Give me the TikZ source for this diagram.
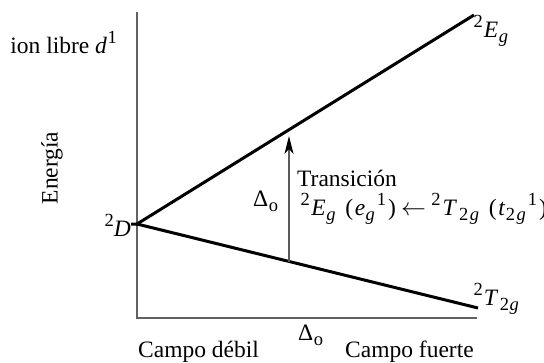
\documentclass[tikz,border=0pt]{standalone}
\usepackage{fontspec}
\setmainfont{Liberation Serif}
\usetikzlibrary{arrows.meta}
\newcommand{\myup}[1]{\kern0.5pt\raisebox{0.4em}{\fontsize{18.5}{18.5}\selectfont #1}}
\newcommand{\mydn}[1]{\kern0.5pt\raisebox{-0.22em}{\fontsize{18.5}{18.5}\selectfont #1}}
\begin{document}
\begin{tikzpicture}[x=1pt,y=-1pt,
  axis/.style={draw=black!62,line width=1.2pt},
  level/.style={draw=black,line width=3pt},
  trans/.style={draw=black!65,line width=1.2pt,-{Stealth[length=18pt,width=9pt,inset=5pt,black]}},
  lbl/.style={inner sep=0pt,font=\fontsize{23.5}{27}\selectfont}]
\useasboundingbox (0,0) rectangle (544,362);
\coordinate (top) at (137,12);
\coordinate (origin) at (137,318);
\coordinate (right) at (477,318);
\coordinate (Dpt) at (137,224);
\coordinate (Dtick) at (131,224);
\coordinate (Eend) at (474,15);
\coordinate (Tend) at (478,308);
\coordinate (abase) at (289,262);
\coordinate (atip) at (289,136);
\draw[axis] (top) -- (origin) -- (right);
\draw[level] (Dtick) -- (Dpt) -- (Eend);
\draw[level] (Dpt) -- (Tend);
\draw[trans] (abase) -- (atip);
\node[lbl,anchor=base east] (free) at (117,53) {ion libre \textit{d}\myup{1}};
\node[lbl,rotate=90] (energy) at (52,168) {Energía};
\node[lbl,anchor=base east] (Dlbl) at (131,236) {\myup{2}\textit{D}};
\node[lbl,anchor=base west] (Elbl) at (473,37) {\myup{2}\kern1pt\textit{E}\mydn{\textit{g}}};
\node[lbl,anchor=base west] (Tlbl) at (473,305) {\myup{2}\kern1pt\textit{T}\kern1pt\mydn{2\kern0.5pt\textit{g}}};
\node[lbl,anchor=base west] (dax) at (298,340) {Δ\mydn{o}};
\node[lbl,anchor=base west] (weak) at (138,357) {Campo débil};
\node[lbl,anchor=base west] (strong) at (345,357) {Campo fuerte};
\node[lbl,anchor=base west] (trlbl) at (297,186) {Transición};
\node[lbl,anchor=base west] (form) at (300,215) {\myup{2}\kern1.5pt\textit{E}\mydn{\textit{g}}\kern4pt{} (\kern1.5pt\textit{e}\mydn{\textit{g}}\kern1.5pt\myup{1}\kern2pt)\kern5pt$\leftarrow$\kern5pt\myup{2}\kern2pt\textit{T}\kern1.5pt\mydn{2\kern1.5pt\textit{g}}\kern4pt{} (\kern1.5pt\textit{t}\mydn{2\kern1.5pt\textit{g}}\kern1.5pt\myup{1}\kern2pt)};
\node[lbl,anchor=base west] (dlft) at (253,206) {Δ\mydn{o}};
\end{tikzpicture}
\end{document}
